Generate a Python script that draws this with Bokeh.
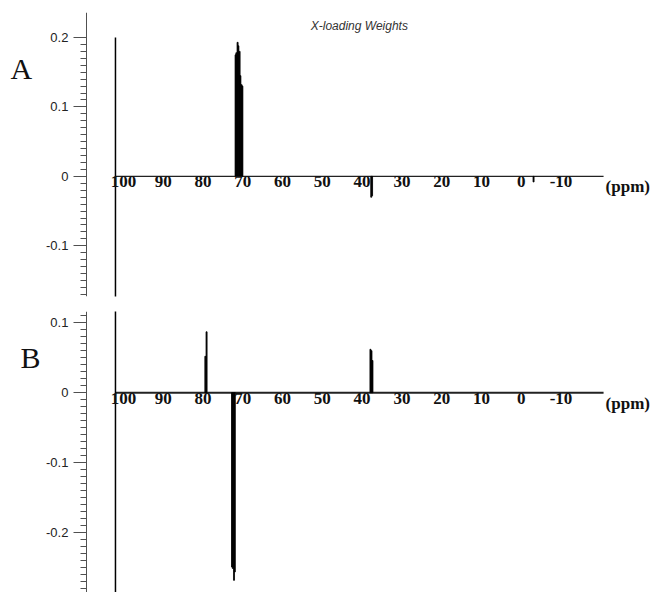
import numpy as np
from bokeh.plotting import figure
from bokeh.models import (Range1d, LinearAxis, FixedTicker, Label, ColumnDataSource)
from bokeh.layouts import column
from bokeh.embed import file_html
from bokeh.resources import INLINE

# ---------------- data ----------------
x_ticks = [100, 90, 80, 70, 60, 50, 40, 30, 20, 10, 0, -10]
ya_ticks = [-0.1, 0.0, 0.1, 0.2]
yb_ticks = [-0.2, -0.1, 0.0, 0.1]

# Panel A: X-loading weights (ppm, weight)
a_ppm = [71.8, 71.6, 71.3, 71.1, 70.8, 70.6, 70.3, 70.1, 37.7, 37.5, -3.1]
a_val = [0.175, 0.178, 0.193, 0.188, 0.180, 0.145, 0.132, 0.130, -0.030, -0.028, -0.008]

# Panel B
b_ppm = [79.4, 79.1, 72.7, 72.5, 72.2, 72.0, 37.9, 37.65, 37.4]
b_val = [0.052, 0.087, -0.249, -0.251, -0.268, -0.256, 0.062, 0.060, 0.046]

# spectrum baseline extent (ppm) and left edge line
baseline_ppm = [102.0, -20.7]
edge_ppm = 102.0
edge_a = [0.2, -0.3]
edge_b = [0.12, -0.3]

# --------------- styling helpers ---------------
X_RANGE = (130.9, -33.0)
Y_AXIS_AT = 109.3
SERIF = "Liberation Serif"
SANS = "Liberation Sans"


def fmt_overrides(ticks, nd):
    out = {}
    for t in ticks:
        if t == 0:
            out[t] = "0"
        else:
            out[t] = f"{t:.{nd}f}"
    return out


def make_panel(height, top_border, bottom_border, y_range, y_ticks, minor, ppm, val,
               edge, base_width, letter, letter_pos):
    p = figure(width=652, height=height, output_backend="svg", toolbar_location=None,
               x_range=Range1d(*X_RANGE), y_range=Range1d(*y_range),
               x_axis_location=None, min_border_left=0, min_border_right=0,
               min_border_top=top_border, min_border_bottom=bottom_border)
    p.outline_line_color = None
    p.xgrid.visible = False
    p.ygrid.visible = False
    p.background_fill_color = "white"
    p.border_fill_color = "white"

    ya = p.yaxis[0]
    ya.fixed_location = Y_AXIS_AT
    ya.ticker = FixedTicker(ticks=y_ticks, minor_ticks=minor)
    ya.major_label_overrides = fmt_overrides(y_ticks, 1)
    ya.axis_line_color = "#505050"
    ya.major_tick_line_color = "#505050"
    ya.minor_tick_line_color = "#505050"
    ya.major_tick_out = 13
    ya.major_tick_in = 0
    ya.minor_tick_out = 6
    ya.minor_tick_in = 0
    ya.major_label_standoff = 5
    ya.major_label_text_font = SANS
    ya.major_label_text_font_size = "13px"
    ya.major_label_text_color = "#222222"

    xa = LinearAxis(fixed_location=0, ticker=FixedTicker(ticks=x_ticks))
    xa.major_label_overrides = fmt_overrides(x_ticks, 0)
    xa.axis_line_color = None
    xa.major_tick_line_color = None
    xa.minor_tick_line_color = None
    xa.major_tick_out = 0
    xa.major_tick_in = 0
    xa.major_label_standoff = 0
    xa.major_label_text_font = SERIF
    xa.major_label_text_font_style = "bold"
    xa.major_label_text_font_size = "17px"
    xa.major_label_text_color = "#111111"
    p.add_layout(xa, "below")

    # baseline and edge line
    p.line(baseline_ppm, [0, 0], line_color="#222222", line_width=base_width)
    p.segment(x0=[edge_ppm], y0=[edge[0]], x1=[edge_ppm], y1=[edge[1]],
              line_color="black", line_width=1.5)

    src = ColumnDataSource(dict(x=ppm, top=val))
    p.vbar(x="x", top="top", bottom=0, width=0.26, source=src,
           fill_color="black", line_color="black", line_width=0.8)

    p.add_layout(Label(x=-21.2, y=0, text="(ppm)", text_font=SERIF, text_font_style="bold",
                       text_font_size="17px", text_baseline="top", text_align="left",
                       y_offset=-1, text_color="#111111"))
    p.add_layout(Label(x=letter_pos[0], y=letter_pos[1], text=letter, text_font=SERIF,
                       text_font_size="30px", text_baseline="alphabetic",
                       text_align="left", text_color="#111111"))
    return p


minor_a = [round(v, 2) for v in np.arange(-0.17, 0.201, 0.01)]
minor_b = [round(v, 2) for v in np.arange(-0.28, 0.115, 0.01)]

pa = make_panel(300, 12, 4, (-0.173, 0.236), ya_ticks, minor_a, a_ppm, a_val,
                edge_a, 1.3, "A", (128.4, 0.155))
pa.add_layout(Label(x=40.7, y=0.217, text="X-loading Weights", text_font=SANS,
                    text_font_style="italic", text_font_size="12px", text_align="center",
                    text_baseline="middle", text_color="#333333"))

pb = make_panel(292, 11, 0, (-0.2854, 0.116), yb_ticks, minor_b, b_ppm, b_val,
                edge_b, 2.0, "B", (125.9, 0.050))

layout = column(pa, pb, spacing=0)
open("out.html", "w").write(file_html(layout, INLINE))
